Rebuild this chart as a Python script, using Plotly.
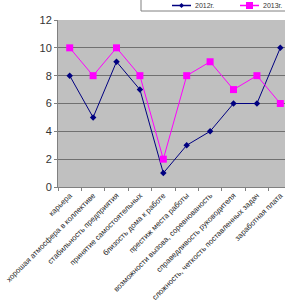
import plotly.graph_objects as go

categories = ["карьера", "хорошая атмосфера в коллективе", "стабильность предприятия",
              "принятие самостоятельных", "близость дома к работе", "престиж места работы",
              "возможности вызова, соревнованость", "справедливость руководителя",
              "сложность, четкость поставленных задач", "заработная плата"]
s2012 = [8, 5, 9, 7, 1, 3, 4, 6, 6, 10]
s2013 = [10, 8, 10, 8, 2, 8, 9, 7, 8, 6]
names = ["2012г.", "2013г."]
colors = ["#000080", "#FF00FF"]

fig = go.Figure()
fig.add_trace(go.Scatter(x=categories, y=s2012, name=names[0], mode="lines+markers",
                         line=dict(color=colors[0], width=1),
                         marker=dict(symbol="diamond", size=5, color=colors[0])))
fig.add_trace(go.Scatter(x=categories, y=s2013, name=names[1], mode="lines+markers",
                         line=dict(color=colors[1], width=1),
                         marker=dict(symbol="square", size=7, color=colors[1])))

H = 167.0
W = 227.0
L = 58.0
T = 20.0


def px(x):
    return (x - L) / W


def py(y):
    return 1 + (T - y) / H


# legend box
fig.add_shape(type="rect", xref="paper", yref="paper",
              x0=px(141), x1=px(300), y0=py(11), y1=py(-5),
              line=dict(color="#808080", width=1), fillcolor="white", layer="below")
# legend entries
ly = 5.5
for i, (nm, c, x0) in enumerate(zip(names, colors, [172, 240])):
    fig.add_shape(type="line", xref="paper", yref="paper",
                  x0=px(x0), x1=px(x0 + 19), y0=py(ly), y1=py(ly),
                  line=dict(color=c, width=1.5))
    cx = x0 + 9.5
    if i == 0:
        path = (f"M {px(cx)},{py(ly - 2.5)} L {px(cx + 2.5)},{py(ly)} "
                f"L {px(cx)},{py(ly + 2.5)} L {px(cx - 2.5)},{py(ly)} Z")
        fig.add_shape(type="path", xref="paper", yref="paper", path=path,
                      fillcolor=c, line=dict(color=c, width=0))
    else:
        fig.add_shape(type="rect", xref="paper", yref="paper",
                      x0=px(cx - 3.5), x1=px(cx + 3.5), y0=py(ly + 3.5), y1=py(ly - 3.5),
                      fillcolor=c, line=dict(color=c, width=0))
    fig.add_annotation(xref="paper", yref="paper", x=px(x0 + 21), y=py(ly),
                       text=nm, showarrow=False, xanchor="left", yanchor="middle",
                       font=dict(size=7, color="#333"))

fig.update_layout(
    width=285, height=301,
    margin=dict(l=58, r=0, t=20, b=114, autoexpand=False),
    paper_bgcolor="white", plot_bgcolor="#C0C0C0",
    font=dict(family="Liberation Sans, Arial", color="#222"),
    showlegend=False,
    xaxis=dict(type="category", range=[-0.5, 9.2], tickangle=-45, automargin=False,
               tickfont=dict(size=7.7, color="#222"), showgrid=False,
               ticks="outside", tickson="boundaries", ticklen=3, tickcolor="#808080",
               showline=True, linecolor="#808080", linewidth=1),
    yaxis=dict(range=[0, 12], dtick=2, tickfont=dict(size=11, color="#333"), automargin=False,
               showgrid=True, gridcolor="#707070", gridwidth=1,
               ticks="outside", ticklen=3, tickcolor="#808080",
               showline=True, linecolor="#808080", linewidth=1, zeroline=False),
)

fig.write_html("out.html")
